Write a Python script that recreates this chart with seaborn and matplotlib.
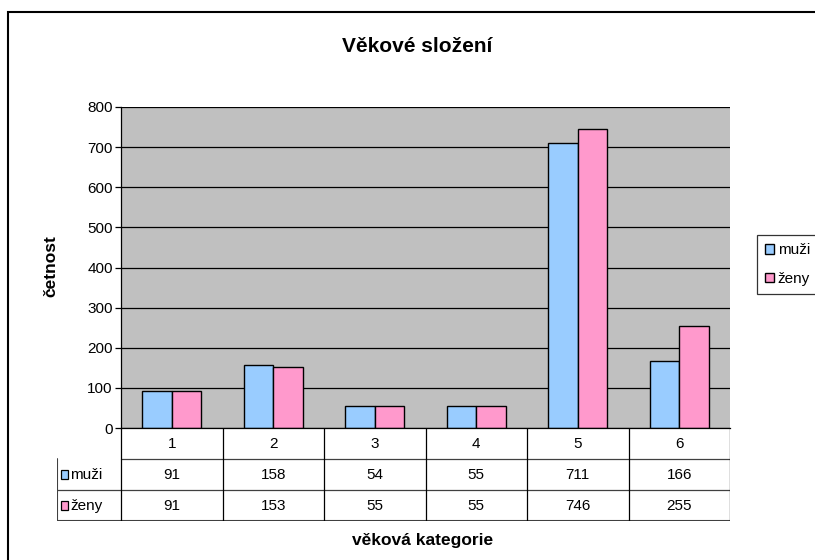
import pandas as pd
import seaborn as sns
import matplotlib.pyplot as plt
from matplotlib.patches import Rectangle

# data
kategorie = ['1', '2', '3', '4', '5', '6']
muzi = [91, 158, 54, 55, 711, 166]
zeny = [91, 153, 55, 55, 746, 255]
serie = ['muži', 'ženy']
barvy = ['#99CCFF', '#FF99CC']

df = pd.DataFrame({
    'kategorie': kategorie * 2,
    'četnost': muzi + zeny,
    'pohlaví': [serie[0]] * 6 + [serie[1]] * 6,
})

sns.set_theme(style='white')
plt.rcParams['font.family'] = ['Liberation Sans', 'DejaVu Sans']
plt.rcParams['text.color'] = 'black'
plt.rcParams['xtick.color'] = 'black'
plt.rcParams['ytick.color'] = 'black'

W, H = 815, 560
fig = plt.figure(figsize=(W / 100, H / 100), dpi=100)

def fx(x):
    return x / W

def fy(y):
    return 1 - y / H

# outer frame
fig.patches.append(Rectangle((fx(8), fy(575)), fx(830) - fx(8), fy(12) - fy(575),
                             transform=fig.transFigure, fill=False,
                             edgecolor='black', linewidth=1.5))

# main plot
ax = fig.add_axes([fx(121), fy(428), fx(730) - fx(121), fy(107) - fy(428)])
ax.set_facecolor('#C0C0C0')
sns.barplot(data=df, x='kategorie', y='četnost', hue='pohlaví', palette=barvy,
            saturation=1, edgecolor='black', linewidth=1, width=0.586, gap=0,
            ax=ax)
ax.set_xlim(-0.5, 5.5)
ax.set_ylim(0, 800)
ax.set_yticks(range(0, 801, 100))
ax.yaxis.grid(True, color='black', linewidth=0.9)
ax.set_axisbelow(True)
ax.tick_params(axis='y', left=True, length=4, width=0.9, color='black',
               labelsize=11, pad=2)
ax.tick_params(axis='x', bottom=False, labelbottom=False)
ax.set_xlabel('')
ax.set_ylabel('')
for s in ['top', 'right']:
    ax.spines[s].set_visible(False)
for s in ['left', 'bottom']:
    ax.spines[s].set_color('black')
    ax.spines[s].set_linewidth(0.9)

handles, labels = ax.get_legend_handles_labels()
ax.get_legend().remove()
leg = fig.legend(handles, labels, loc='upper left',
                 bbox_to_anchor=(fx(757), fy(235)), bbox_transform=fig.transFigure,
                 fontsize=11, frameon=True, fancybox=False, handlelength=0.55,
                 handleheight=0.55, handletextpad=0.25, borderpad=0.55,
                 labelspacing=0.95, borderaxespad=0)
leg.get_frame().set_edgecolor('black')
leg.get_frame().set_linewidth(0.9)

# data table below the plot
unit = (730 - 121) / 6
left_w = (121 - 57) / unit
tx = fig.add_axes([fx(57), fy(521), fx(730) - fx(57), fy(428) - fy(521)])
tx.set_xlim(-0.5 - left_w, 5.5)
tx.set_ylim(3, 0)
tx.axis('off')
lc = '#404040'
tx.plot([-0.5, 5.5], [1, 1], color=lc, lw=0.9)
tx.plot([-0.5 - left_w, 5.5], [2, 2], color=lc, lw=0.9)
tx.plot([-0.5 - left_w, 5.5], [3, 3], color=lc, lw=1.5)
tx.plot([-0.5 - left_w, -0.5 - left_w], [1, 3], color=lc, lw=1.5)
for i in range(7):
    tx.plot([i - 0.5, i - 0.5], [0, 3], color='black', lw=0.9)
for i, k in enumerate(kategorie):
    tx.text(i, 0.52, k, ha='center', va='center', fontsize=11)
    tx.text(i, 1.52, str(muzi[i]), ha='center', va='center', fontsize=11)
    tx.text(i, 2.52, str(zeny[i]), ha='center', va='center', fontsize=11)
for r, (nazev, barva) in enumerate(zip(serie, barvy)):
    tx.add_patch(Rectangle((-0.5 - left_w + 0.035, 1.36 + r), 0.07, 0.3,
                           facecolor=barva, edgecolor='black', lw=0.9))
    tx.text(-0.5 - left_w + 0.13, 1.52 + r, nazev, ha='left', va='center',
            fontsize=11)

# titles
fig.text(fx(417), fy(52), 'Věkové složení', ha='center', va='baseline',
         fontsize=15, fontweight='bold')
fig.text(fx(55), fy(266), 'četnost', ha='center', va='baseline', rotation=90,
         rotation_mode='anchor', fontsize=12.5, fontweight='bold')
fig.text(fx(423), fy(545), 'věková kategorie', ha='center', va='baseline',
         fontsize=12.5, fontweight='bold')

fig.savefig('out.png', dpi=100, facecolor='white')
